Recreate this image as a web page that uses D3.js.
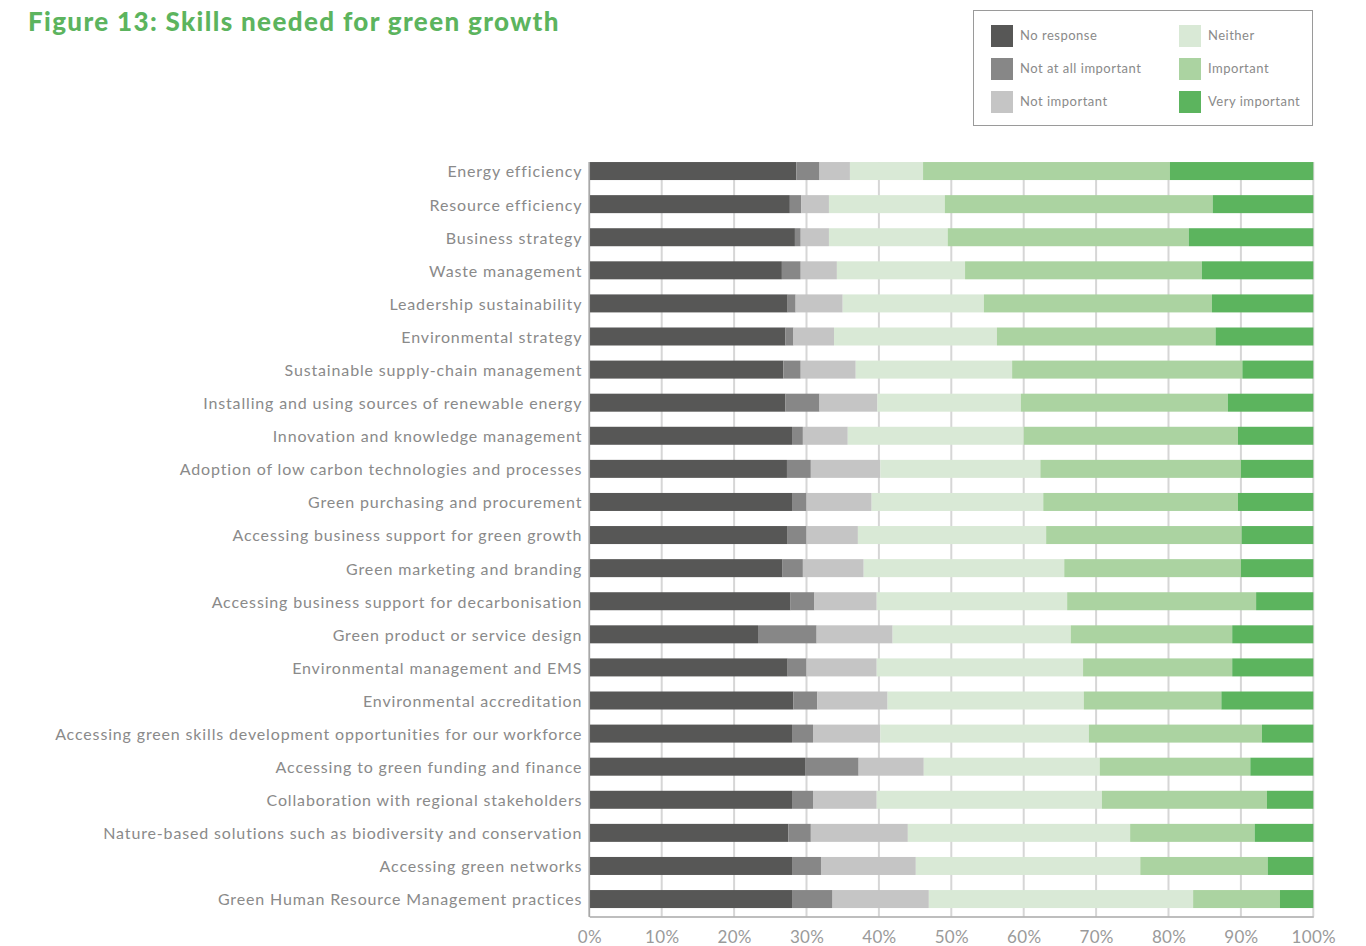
<!DOCTYPE html>
<html>
<head>
<meta charset="utf-8">
<script src="https://cdn.jsdelivr.net/npm/d3@7"></script>
<style>
  html, body { margin: 0; padding: 0; background: #fff; }
  svg { display: block; font-family: Lato, "Open Sans", sans-serif; }
</style>
</head>
<body>
<svg id="chart" width="1366" height="946"></svg>
<script>
// Survey categories (top to bottom)
const categories = [
  "Energy efficiency",
  "Resource efficiency",
  "Business strategy",
  "Waste management",
  "Leadership sustainability",
  "Environmental strategy",
  "Sustainable supply-chain management",
  "Installing and using sources of renewable energy",
  "Innovation and knowledge management",
  "Adoption of low carbon technologies and processes",
  "Green purchasing and procurement",
  "Accessing business support for green growth",
  "Green marketing and branding",
  "Accessing business support for decarbonisation",
  "Green product or service design",
  "Environmental management and EMS",
  "Environmental accreditation",
  "Accessing green skills development opportunities for our workforce",
  "Accessing to green funding and finance",
  "Collaboration with regional stakeholders",
  "Nature-based solutions such as biodiversity and conservation",
  "Accessing green networks",
  "Green Human Resource Management practices"
];

// Share of responses (%) per answer, in category order
const noResponse    = [28.6, 27.7, 28.4, 26.6, 27.4, 27.1, 26.8, 27.1, 28.0, 27.3, 28.0, 27.4, 26.7, 27.8, 23.3, 27.4, 28.2, 28.0, 29.8, 28.0, 27.5, 28.0, 28.0];
const notAtAll      = [3.2, 1.6, 0.8, 2.6, 1.1, 1.1, 2.4, 4.7, 1.5, 3.3, 2.0, 2.6, 2.8, 3.3, 8.1, 2.6, 3.3, 2.9, 7.4, 2.9, 3.1, 4.0, 5.6];
const notImportant  = [4.2, 3.8, 3.9, 5.0, 6.5, 5.6, 7.6, 8.0, 6.2, 9.6, 9.0, 7.1, 8.4, 8.6, 10.5, 9.7, 9.7, 9.3, 9.0, 8.8, 13.4, 13.1, 13.3];
const neither       = [10.1, 16.0, 16.4, 17.7, 19.5, 22.5, 21.6, 19.8, 24.3, 22.1, 23.7, 26.0, 27.7, 26.3, 24.6, 28.5, 27.1, 28.8, 24.3, 31.1, 30.7, 31.0, 36.5];
const important     = [34.1, 37.0, 33.3, 32.7, 31.5, 30.2, 31.8, 28.6, 29.6, 27.7, 26.9, 27.0, 24.4, 26.1, 22.3, 20.6, 19.0, 23.9, 20.8, 22.8, 17.2, 17.6, 12.0];
const veryImportant = [19.8, 13.9, 17.2, 15.4, 14.0, 13.5, 9.8, 11.8, 10.4, 10.0, 10.4, 9.9, 10.0, 7.9, 11.2, 11.2, 12.7, 7.1, 8.7, 6.4, 8.1, 6.3, 4.6];

const seriesNames = ["No response", "Not at all important", "Not important", "Neither", "Important", "Very important"];
const seriesValues = [noResponse, notAtAll, notImportant, neither, important, veryImportant];
const seriesColors = ["#575756", "#878787", "#c5c5c5", "#d9e9d6", "#abd3a1", "#5cb45e"];

const xTicks = [0, 10, 20, 30, 40, 50, 60, 70, 80, 90, 100];

// Rows for the stack layout
const rows = categories.map((c, i) => {
  const r = { category: c };
  seriesNames.forEach((s, k) => { r[s] = seriesValues[k][i]; });
  return r;
});

const svg = d3.select("#chart");

const margin = { left: 589.3, right: 1313.3, top: 154.5, bottom: 915.6 };

const x = d3.scaleLinear().domain([0, 100]).range([margin.left, margin.right]);
const y = d3.scaleBand()
  .domain(categories)
  .range([margin.top, margin.bottom])
  .paddingInner(0.456)
  .paddingOuter(0.228);

// Title
svg.append("text")
  .attr("x", 28)
  .attr("y", 31)
  .attr("fill", "#5cb45e")
  .attr("font-size", 26)
  .attr("font-weight", 900)
  .attr("letter-spacing", 1.35)
  .text("Figure 13: Skills needed for green growth");

// Vertical gridlines
const gridTop = y(categories[0]);
svg.append("g")
  .selectAll("line")
  .data(xTicks)
  .join("line")
  .attr("x1", d => x(d))
  .attr("x2", d => x(d))
  .attr("y1", gridTop)
  .attr("y2", margin.bottom + 1)
  .attr("stroke", "#d6d6d6")
  .attr("stroke-width", 2);

// Stacked bars
const stack = d3.stack().keys(seriesNames);
const stacked = stack(rows);

svg.append("g")
  .selectAll("g")
  .data(stacked)
  .join("g")
  .attr("fill", (d, i) => seriesColors[i])
  .selectAll("rect")
  .data(d => d)
  .join("rect")
  .attr("x", d => x(d[0]))
  .attr("width", d => x(d[1]) - x(d[0]))
  .attr("y", d => y(d.data.category))
  .attr("height", y.bandwidth());

// Left axis line
svg.append("line")
  .attr("x1", x(0)).attr("x2", x(0))
  .attr("y1", gridTop).attr("y2", margin.bottom + 1.5)
  .attr("stroke", "#a8a8a8")
  .attr("stroke-width", 1.5);

// Bottom axis
const xAxis = d3.axisBottom(x)
  .tickValues(xTicks)
  .tickFormat(d => d + "%")
  .tickSize(0)
  .tickPadding(14);

const gx = svg.append("g")
  .attr("transform", `translate(0,${margin.bottom + 1})`)
  .call(xAxis);
gx.select(".domain").attr("stroke", "#a8a8a8").attr("stroke-width", 1.5);
gx.selectAll("text")
  .attr("fill", "#9a9a9a")
  .attr("font-size", 17)
  .attr("letter-spacing", 0.3)
  .attr("font-family", "Lato, 'Open Sans', sans-serif");

// Category labels
const yAxis = d3.axisLeft(y).tickSize(0).tickPadding(7);
const gy = svg.append("g")
  .attr("transform", `translate(${x(0)},0)`)
  .call(yAxis);
gy.select(".domain").remove();
gy.selectAll("text")
  .attr("fill", "#8a8a8a")
  .attr("font-size", 16)
  .attr("dy", "0.4em")
  .attr("letter-spacing", 0.85)
  .attr("font-family", "Lato, 'Open Sans', sans-serif");

// Legend
const legend = svg.append("g");
legend.append("rect")
  .attr("x", 973.5).attr("y", 10.5)
  .attr("width", 339).attr("height", 115)
  .attr("fill", "#fff")
  .attr("stroke", "#9a9a9a")
  .attr("stroke-width", 1);

const legendItems = seriesNames.map((name, i) => ({
  name,
  color: seriesColors[i],
  col: Math.floor(i / 3),
  row: i % 3
}));

const li = legend.selectAll("g.item")
  .data(legendItems)
  .join("g")
  .attr("class", "item")
  .attr("transform", d => `translate(${d.col === 0 ? 991 : 1179},${25 + d.row * 33})`);

li.append("rect")
  .attr("width", 22).attr("height", 22)
  .attr("fill", d => d.color);

li.append("text")
  .attr("x", 29)
  .attr("y", 10)
  .attr("dy", "0.35em")
  .attr("fill", "#8a8a8a")
  .attr("font-size", 13)
  .attr("letter-spacing", 0.5)
  .text(d => d.name);
</script>
</body>
</html>
